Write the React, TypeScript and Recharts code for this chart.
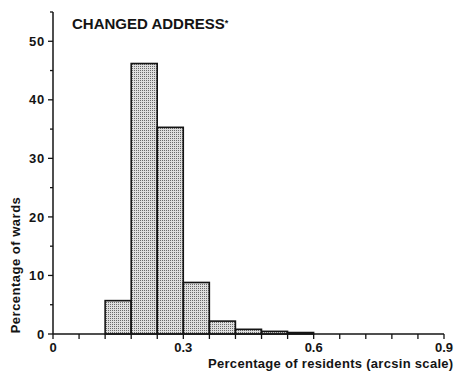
import { BarChart, Bar, XAxis, YAxis } from "recharts";

// lower edge of each 0.06-wide bin on the arcsin scale
const binStarts = [0, 0.06, 0.12, 0.18, 0.24, 0.3, 0.36, 0.42, 0.48, 0.54, 0.6, 0.66, 0.72, 0.78, 0.84];
// percentage of wards falling into each bin
const wardPct = [0, 0, 5.7, 46.2, 35.3, 8.8, 2.2, 0.8, 0.45, 0.25, 0, 0, 0, 0, 0];

const xTicks = [0, 0.06, 0.12, 0.18, 0.24, 0.3, 0.36, 0.42, 0.48, 0.54, 0.6, 0.66, 0.72, 0.78, 0.84, 0.9];
const xTickLabels = [0, 0.3, 0.6, 0.9];
const yTicks = [0, 5, 10, 15, 20, 25, 30, 35, 40, 45, 50, 55];
const yTickLabels = [0, 10, 20, 30, 40, 50];

const data = binStarts.map((start, i) => ({ bin: start, pct: wardPct[i] }));

const INK = "#141414";
const FONT = "'Liberation Sans', Arial, sans-serif";

function YTick(props: any) {
  const { x, y, payload } = props;
  const major = yTickLabels.includes(payload.value);
  return (
    <g>
      <line x1={major ? x + 3 : x + 5} x2={x + 8} y1={y} y2={y} stroke={INK} strokeWidth={1.3} />
      {major && (
        <text x={x} y={y} dy="0.36em" textAnchor="end" fontFamily={FONT} fontWeight={700} fontSize={13} letterSpacing={0.8} fill={INK}>
          {payload.value}
        </text>
      )}
    </g>
  );
}

function StippleBar(props: any) {
  const { x, y, width, height } = props;
  if (!height || height <= 0) return null;
  return <rect x={x} y={y} width={width} height={height} fill="url(#stipple)" stroke={INK} strokeWidth={1.6} />;
}

export default function App() {
  return (
    <div style={{ position: "absolute", left: 0, top: 0, width: 459, height: 376, background: "#fff", fontFamily: FONT }}>
      <svg width={0} height={0} style={{ position: "absolute" }}>
        <defs>
          <pattern id="stipple" width={2} height={2} patternUnits="userSpaceOnUse">
            <rect width={2} height={2} fill="#dedede" />
            <rect width={1} height={1} fill="#6a6a6a" />
          </pattern>
        </defs>
      </svg>
      <BarChart width={459} height={376} data={data} margin={{ top: 12, right: 15, left: 0, bottom: 0 }} barCategoryGap={0} barGap={0}>
        <XAxis xAxisId="bins" dataKey="bin" type="category" hide height={0} />
        <XAxis
          xAxisId="scale"
          dataKey="bin"
          type="number"
          domain={[0, 0.9]}
          ticks={xTicks}
          interval={0}
          height={42}
          tickSize={5}
          tickMargin={4}
          axisLine={{ stroke: INK, strokeWidth: 1.5 }}
          tickLine={{ stroke: INK, strokeWidth: 1.3 }}
          tick={{ fill: INK, fontSize: 13, fontWeight: 700, fontFamily: FONT }}
          tickFormatter={(v: number) => (xTickLabels.includes(v) ? String(v) : "")}
        />
        <YAxis
          domain={[0, 55]}
          ticks={yTicks}
          interval={0}
          width={53}
          tickSize={5}
          tickMargin={3}
          tickLine={false}
          axisLine={{ stroke: INK, strokeWidth: 1.5 }}
          tick={<YTick />}
        />
        <Bar xAxisId="bins" dataKey="pct" shape={<StippleBar />} isAnimationActive={false} />
      </BarChart>
      <div style={{ position: "absolute", left: 72, top: 16, fontSize: 15, lineHeight: "15px", fontWeight: 700, color: INK, whiteSpace: "nowrap" }}>
        CHANGED ADDRESS<span style={{ fontSize: 9, verticalAlign: "top" }}>*</span>
      </div>
      <div
        style={{
          position: "absolute",
          left: 14.5,
          top: 265,
          transform: "translate(-50%, -50%) rotate(-90deg)",
          fontSize: 13,
          lineHeight: "13px",
          fontWeight: 700,
          letterSpacing: 0.5,
          color: INK,
          whiteSpace: "nowrap",
        }}
      >
        Percentage of wards
      </div>
      <div style={{ position: "absolute", left: 208, top: 357, fontSize: 13, lineHeight: "13px", fontWeight: 700, letterSpacing: 0.3, color: INK, whiteSpace: "nowrap" }}>
        Percentage of residents (arcsin scale)
      </div>
    </div>
  );
}
